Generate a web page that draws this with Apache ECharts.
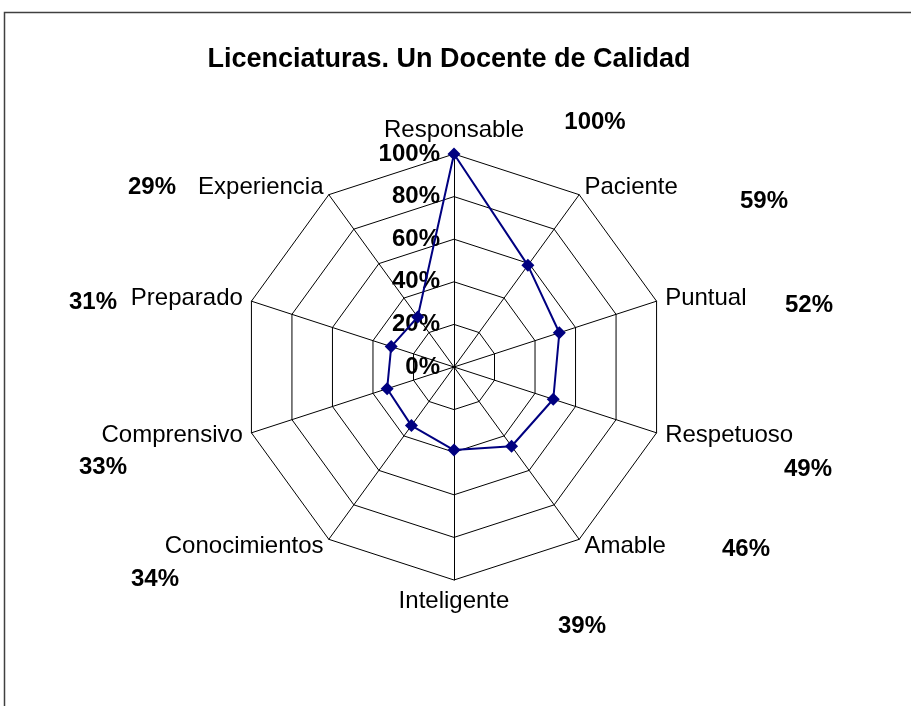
<!DOCTYPE html>
<html>
<head>
<meta charset="utf-8">
<script src="https://cdn.jsdelivr.net/npm/echarts@6/dist/echarts.min.js"></script>
<style>
html,body{margin:0;padding:0;background:#fff;}
#main{width:911px;height:706px;}
</style>
</head>
<body>
<div id="main"></div>
<script>
// datos (en sentido horario desde arriba)
var categorias = ['Responsable','Paciente','Puntual','Respetuoso','Amable','Inteligente','Conocimientos','Comprensivo','Preparado','Experiencia'];
var valores = [100, 59, 52, 49, 46, 39, 34, 33, 31, 29];
var ticks = [0, 20, 40, 60, 80, 100];

// posiciones de las etiquetas de porcentaje (como en Excel)
var posEtiquetas = [[595,122],[764,201],[809,305],[808,469],[746,549],[582,626],[155,579],[103,467],[93,302],[152,187]];

// echarts pone los ejes en sentido antihorario, se invierte el orden
var orden = [0];
for (var i = categorias.length - 1; i > 0; i--) orden.push(i);

var indicadores = orden.map(function (k, j) {
    var ind = {name: categorias[k], min: ticks[0], max: ticks[ticks.length - 1]};
    if (j === 0) ind.axisLabel = {show: true};
    return ind;
});
var serie = orden.map(function (k) { return valores[k]; });

var myChart = echarts.init(document.getElementById('main'));

var textos = categorias.map(function (c, i) {
    return {
        type: 'text',
        x: posEtiquetas[i][0],
        y: posEtiquetas[i][1],
        style: {
            text: valores[i] + '%',
            font: 'bold 24px "Liberation Sans", Arial',
            fill: '#000',
            align: 'center',
            verticalAlign: 'middle'
        }
    };
});
textos.push({
    type: 'rect',
    shape: {x: 4.5, y: 12.5, width: 1000, height: 1000},
    style: {fill: 'none', stroke: '#404040', lineWidth: 1.5},
    silent: true
});

var option = {
    backgroundColor: '#fff',
    title: {
        text: 'Licenciaturas. Un Docente de Calidad',
        left: 444,
        textAlign: 'center',
        top: 41,
        textStyle: {fontFamily: '"Liberation Sans", Arial', fontSize: 27, fontWeight: 'bold', color: '#000'}
    },
    radar: {
        center: [454, 367],
        radius: 213,
        startAngle: 90,
        shape: 'polygon',
        splitNumber: 5,
        indicator: indicadores,
        axisName: {color: '#000', fontSize: 24, fontFamily: '"Liberation Sans", Arial'},
        nameGap: 9,
        axisLine: {lineStyle: {color: '#000', width: 1}},
        splitLine: {lineStyle: {color: '#000', width: 1}},
        splitArea: {show: false},
        axisTick: {show: false},
        axisLabel: {
            show: false,
            color: '#000',
            fontSize: 24,
            fontWeight: 'bold',
            fontFamily: '"Liberation Sans", Arial',
            formatter: '{value}%',
            margin: 14
        }
    },
    series: [{
        type: 'radar',
        symbol: 'diamond',
        symbolSize: 13,
        lineStyle: {color: '#000080', width: 2},
        itemStyle: {color: '#000080'},
        data: [{value: serie, name: 'Docente'}]
    }],
    graphic: textos
};
myChart.setOption(option);
</script>
</body>
</html>
